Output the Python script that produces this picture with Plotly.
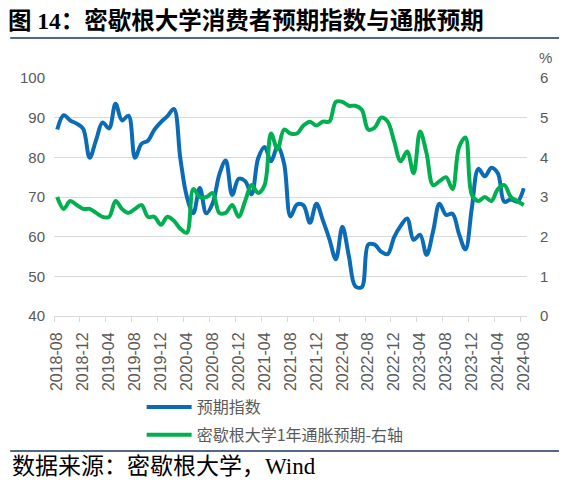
import plotly.graph_objects as go

# monthly data 2018-08 .. 2024-08
months = []
for y in range(2018, 2025):
    for m in range(1, 13):
        if (y == 2018 and m < 8) or (y == 2024 and m > 8):
            continue
        months.append("%d-%02d" % (y, m))

expect_idx = [87.0, 90.6, 89.3, 88.5, 87.2,
              79.9, 84.4, 88.8, 87.3, 93.5, 89.3, 90.5, 79.9, 83.4, 84.2, 87.0, 88.9,
              90.4, 92.2, 79.7, 70.1, 65.9, 72.3, 65.9, 68.5, 75.6, 79.2, 70.5, 74.6,
              74.0, 70.7, 79.7, 82.6, 79.0, 82.7, 78.5, 65.1, 68.1, 67.9, 63.5, 68.3,
              64.1, 59.4, 54.3, 62.5, 55.2, 47.5, 47.3, 58.0, 58.0, 56.2, 55.6, 59.9,
              62.7, 64.6, 59.2, 60.5, 55.4, 61.3, 68.3, 65.5, 65.8, 60.7, 56.8, 67.4,
              77.1, 75.2, 77.4, 76.0, 68.8, 69.4, 68.8, 72.2]

infl_exp = [3.0, 2.7, 2.9, 2.8, 2.7,
            2.7, 2.6, 2.5, 2.5, 2.9, 2.7, 2.6, 2.7, 2.8, 2.5, 2.5, 2.3,
            2.5, 2.4, 2.2, 2.1, 3.2, 3.0, 3.0, 3.1, 2.6, 2.6, 2.8, 2.5,
            2.9, 3.3, 3.1, 3.3, 4.6, 4.2, 4.7, 4.6, 4.6, 4.8, 4.9, 4.8,
            4.9, 4.9, 5.4, 5.4, 5.3, 5.3, 5.2, 4.7, 4.75, 5.0, 4.9, 4.4,
            3.9, 4.15, 3.6, 4.65, 4.1, 3.3, 3.4, 3.5, 3.2, 4.25, 4.5, 3.05,
            2.9, 3.0, 2.9, 3.2, 3.3, 3.0, 2.9, 2.8]

tick_labels = months[::4]

BLUE = "#0B6BB5"
GREEN = "#00B050"
GREY_TXT = "#595959"
GRID = "#D9D9D9"
NAVY = "#17375E"
CJK = "Noto Sans CJK SC"
SERIF = "Liberation Serif, Noto Sans CJK SC"

# the page keeps the browser's 8px body margin, so the figure is 8px smaller
W, H = 559, 476
L, T = 44, 70          # plot area left / top inside the figure
PW, PH = 475, 238      # plot area size


def px(xp):
    # figure x pixel -> paper coordinate
    return (xp - L) / PW


def py(yp):
    # figure y pixel -> paper coordinate
    return (T + PH - yp) / PH


fig = go.Figure()
fig.add_trace(go.Scatter(x=months, y=expect_idx, name="预期指数", mode="lines",
                         line=dict(color=BLUE, width=4, shape="spline"),
                         legendgroup="a"))
fig.add_trace(go.Scatter(x=months, y=infl_exp, name="密歇根大学1年通胀预期-右轴", mode="lines",
                         line=dict(color=GREEN, width=4, shape="spline"),
                         yaxis="y2", legendgroup="b"))

n = len(months)
fig.update_layout(
    width=W, height=H,
    margin=dict(l=L, r=W - L - PW, t=T, b=H - T - PH),
    plot_bgcolor="white", paper_bgcolor="white",
    font=dict(family="Liberation Sans", color=GREY_TXT, size=15),
    title=dict(text="<b>图 14：密歇根大学消费者预期指数与通胀预期</b>",
               font=dict(family=SERIF, size=23.5, color="black"),
               x=0, xanchor="left", xref="container",
               y=1 - 13 / H, yanchor="middle", yref="container"),
    xaxis=dict(type="category", range=[-0.5, n - 0.5],
               tickvals=tick_labels, ticktext=tick_labels, tickangle=-90,
               ticks="", showgrid=False, showline=True, linecolor=GRID, linewidth=1,
               tickfont=dict(size=16, color=GREY_TXT), ticklabelstandoff=9),
    # separate axis only for tick marks between categories
    xaxis3=dict(overlaying="x", anchor="y", range=[-0.5, n - 0.5],
                tickvals=[i - 0.5 for i in range(0, n, 4)],
                ticks="outside", ticklen=5, tickcolor=GRID,
                showticklabels=False, showgrid=False, showline=False, zeroline=False),
    yaxis=dict(range=[40, 100], dtick=10, showgrid=True, gridcolor=GRID,
               zeroline=False, ticks="", tickfont=dict(size=15, color=GREY_TXT),
               ticklabelstandoff=8),
    yaxis2=dict(range=[0, 6], dtick=1, overlaying="y", side="right",
                showgrid=False, zeroline=False, ticks="",
                tickfont=dict(size=15, color=GREY_TXT), ticklabelstandoff=12),
    legend=dict(orientation="v", x=px(132), xanchor="left",
                y=py(382), yanchor="top", itemwidth=45,
                tracegroupgap=4, traceorder="grouped", bgcolor="rgba(0,0,0,0)",
                font=dict(family=CJK, size=16, color=GREY_TXT)),
    showlegend=True,
    shapes=[
        # title underline and source separator
        dict(type="line", xref="paper", yref="paper", x0=px(0), x1=px(W),
             y0=py(30), y1=py(30), line=dict(color=NAVY, width=1.5)),
        dict(type="line", xref="paper", yref="paper", x0=px(0), x1=px(W),
             y0=py(443), y1=py(443), line=dict(color=NAVY, width=1.5)),
    ],
)

# dummy trace so xaxis3 gets drawn
fig.add_trace(go.Scatter(x=[0], y=[None], xaxis="x3", showlegend=False, hoverinfo="skip"))

fig.add_annotation(text="%", xref="paper", yref="paper", x=px(538), xanchor="center",
                   y=1, yanchor="bottom", yshift=10, showarrow=False,
                   font=dict(size=15, color=GREY_TXT))
fig.add_annotation(text="数据来源：密歇根大学，Wind", xref="paper", yref="paper",
                   x=px(0), xanchor="left", y=py(458), yanchor="middle",
                   showarrow=False, font=dict(family=SERIF, size=23, color="black"))

fig.write_html("out.html", config={"displayModeBar": False})
